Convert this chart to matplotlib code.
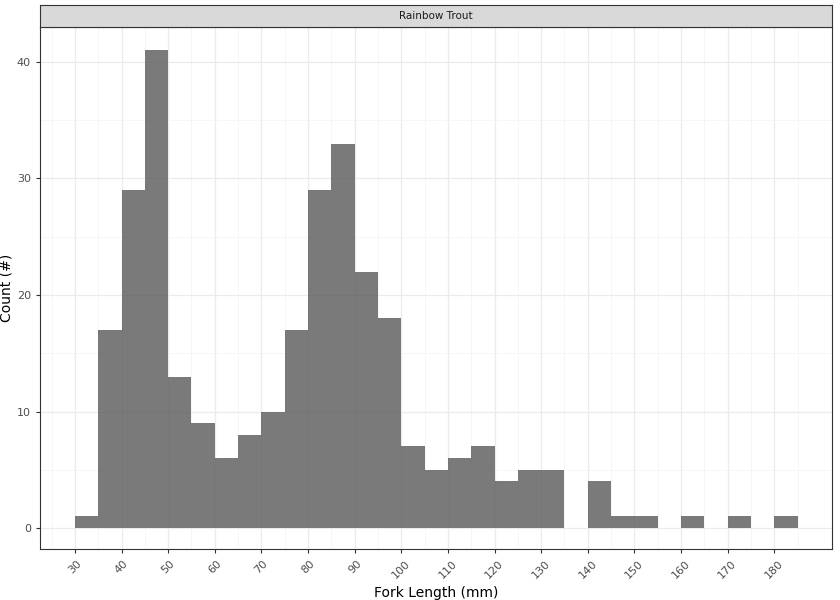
import matplotlib
matplotlib.use("Agg")
import matplotlib.pyplot as plt
import numpy as np

bin_left = list(range(30, 185, 5))
counts = [1,17,29,41,13,9,6,8,10,17,29,33,22,18,7,5,6,7,4,5,5,0,4,1,1,0,1,0,1,0,1]
bin_width = 5
xticks = list(range(30, 190, 10))
yticks = [0, 10, 20, 30, 40]

fig = plt.figure(figsize=(8.4, 6.0), dpi=100)
ax = fig.add_axes([0.0476, 0.085, 0.9429, 0.870])
sax = fig.add_axes([0.0476, 0.955, 0.9429, 0.037])

ax.bar(bin_left, counts, width=bin_width, align='edge', color='#595959', alpha=0.8, linewidth=0, zorder=3)
ax.set_xlim(22.5, 192.4)
ax.set_ylim(-1.8, 43.0)
ax.set_xticks(xticks)
ax.set_xticks(np.arange(25, 195, 10), minor=True)
ax.set_yticks(yticks)
ax.set_yticks([5, 15, 25, 35], minor=True)
ax.set_xticklabels([str(t) for t in xticks], rotation=45, fontsize=8, color='#4d4d4d')
ax.set_yticklabels([str(t) for t in yticks], fontsize=8, color='#4d4d4d')
ax.grid(which='major', color='#ebebeb', linewidth=0.9, zorder=0)
ax.grid(which='minor', color='#f3f3f3', linewidth=0.5, zorder=0)
ax.tick_params(which='major', length=3, color='#333333')
ax.tick_params(which='minor', length=0)
for s in ax.spines.values():
    s.set_color('#333333'); s.set_linewidth(0.8)
ax.set_xlabel('Fork Length (mm)', fontsize=10)
ax.set_ylabel('Count (#)', fontsize=10)
ax.yaxis.set_label_coords(-0.034, 0.5)

sax.set_facecolor('#d9d9d9')
sax.set_xticks([]); sax.set_yticks([])
for s in sax.spines.values():
    s.set_color('#333333'); s.set_linewidth(0.8)
sax.text(0.5, 0.5, 'Rainbow Trout', ha='center', va='center', fontsize=7.5, color='#1a1a1a', transform=sax.transAxes)

fig.savefig('out.png', dpi=100)
